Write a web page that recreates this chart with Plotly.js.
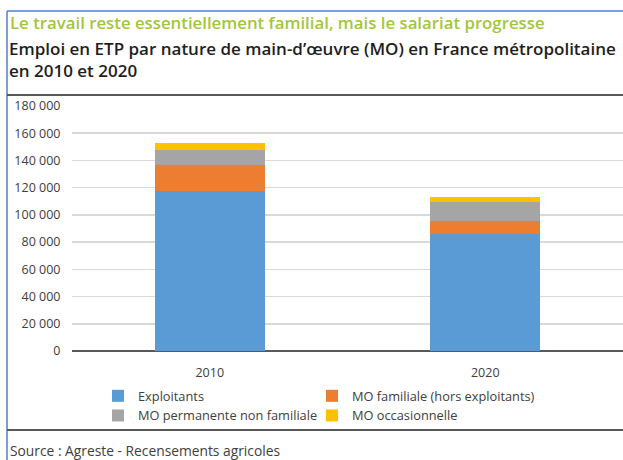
<!DOCTYPE html>
<html>
<head>
<meta charset="utf-8">
<script src="https://cdn.plot.ly/plotly-3.0.1.min.js"></script>
<style>html,body{margin:0;padding:0;background:#fff;}#chart{width:623px;height:460px;}</style>
</head>
<body>
<div id="chart"></div>
<script>
const categories = ['2010', '2020'];
const seriesNames = ['Exploitants', 'MO familiale (hors exploitants)', 'MO permanente non familiale', 'MO occasionnelle'];
const exploitants = [117500, 86000];
const moFamiliale = [19000, 9800];
const moPermanente = [11000, 13500];
const moOccasionnelle = [5400, 3700];
const colors = ['#5b9bd5', '#ed7d31', '#a5a5a5', '#ffc000'];
const yTicks = [0, 20000, 40000, 60000, 80000, 100000, 120000, 140000, 160000, 180000];

const seriesValues = [exploitants, moFamiliale, moPermanente, moOccasionnelle];
const legendOf = ['legend', 'legend2', 'legend', 'legend2'];
const font = 'Open Sans, Noto Sans, sans-serif';

const traces = seriesValues.map((vals, i) => ({
  type: 'bar',
  name: seriesNames[i],
  x: categories,
  y: vals,
  width: 0.4,
  legend: legendOf[i],
  marker: {color: colors[i], line: {width: 0}},
  hoverinfo: 'name+y'
}));

// pixel helpers (plot area: x 72..623, y 106..351)
const W = 623, H = 460, L = 72, T = 106, B = 109;
const pw = W - L, ph = H - T - B;
const px = X => (X - L) / pw;
const py = Y => (H - B - Y) / ph;

const legendStyle = {
  orientation: 'v',
  traceorder: 'normal',
  yanchor: 'top',
  y: py(381),
  xanchor: 'left',
  itemwidth: 30,
  tracegroupgap: 0,
  font: {family: font, size: 12.8, color: '#404040'},
  bgcolor: 'rgba(0,0,0,0)'
};

const layout = {
  width: W, height: H,
  margin: {l: L, r: 0, t: T, b: B, pad: 0},
  paper_bgcolor: '#ffffff',
  plot_bgcolor: '#ffffff',
  font: {family: font, size: 12, color: '#404040'},
  separators: ', ',
  barmode: 'stack',
  showlegend: true,
  title: {
    text: 'Emploi en ETP par nature de main-d\u2019\u0153uvre (MO) en France m\u00e9tropolitaine<br>en 2010 et 2020',
    font: {family: font, size: 17, color: '#1e1e1e', weight: 600},
    x: 9 / W, xanchor: 'left', xref: 'container',
    y: 1 - 55 / H, yanchor: 'top', yref: 'container'
  },
  xaxis: {
    type: 'category',
    range: [-0.5, 1.5],
    showgrid: false,
    zeroline: false,
    showline: false,
    ticks: 'outside', ticklen: 10, tickcolor: 'rgba(0,0,0,0)',
    tickfont: {family: font, size: 12.5, color: '#404040'},
    fixedrange: true
  },
  yaxis: {
    range: [0, 180000],
    tickvals: yTicks,
    tickformat: ',d',
    showgrid: true,
    gridcolor: '#d9d9d9',
    gridwidth: 1.5,
    zeroline: true,
    zerolinecolor: '#595959',
    zerolinewidth: 2,
    showline: false,
    ticks: 'outside', ticklen: 8, tickcolor: 'rgba(0,0,0,0)',
    tickfont: {family: font, size: 12.5, color: '#404040'},
    fixedrange: true
  },
  legend: Object.assign({}, legendStyle, {x: px(98)}),
  legend2: Object.assign({}, legendStyle, {x: px(312)}),
  annotations: [
    {
      text: 'Le travail reste essentiellement familial, mais le salariat progresse',
      xref: 'paper', yref: 'paper', x: px(8), y: py(23),
      xanchor: 'left', yanchor: 'middle', showarrow: false,
      font: {family: font, size: 16.8, color: '#a4c639', weight: 600}
    },
    {
      text: 'Source : Agreste - Recensements agricoles',
      xref: 'paper', yref: 'paper', x: px(8), y: py(450),
      xanchor: 'left', yanchor: 'middle', showarrow: false,
      font: {family: font, size: 13.8, color: '#404040'}
    }
  ],
  shapes: [
    {type: 'line', xref: 'paper', yref: 'paper', x0: px(7), x1: px(7), y0: py(11), y1: py(462), line: {color: '#4f7fd0', width: 1.5}},
    {type: 'line', xref: 'paper', yref: 'paper', x0: px(7), x1: px(625), y0: py(11), y1: py(11), line: {color: '#4f7fd0', width: 1.5}},
    {type: 'line', xref: 'paper', yref: 'paper', x0: px(7), x1: px(625), y0: py(95), y1: py(95), line: {color: '#595959', width: 2}},
    {type: 'line', xref: 'paper', yref: 'paper', x0: px(7), x1: px(625), y0: py(430), y1: py(430), line: {color: '#595959', width: 2}}
  ]
};

Plotly.newPlot('chart', traces, layout, {displayModeBar: false, staticPlot: true});
</script>
</body>
</html>
